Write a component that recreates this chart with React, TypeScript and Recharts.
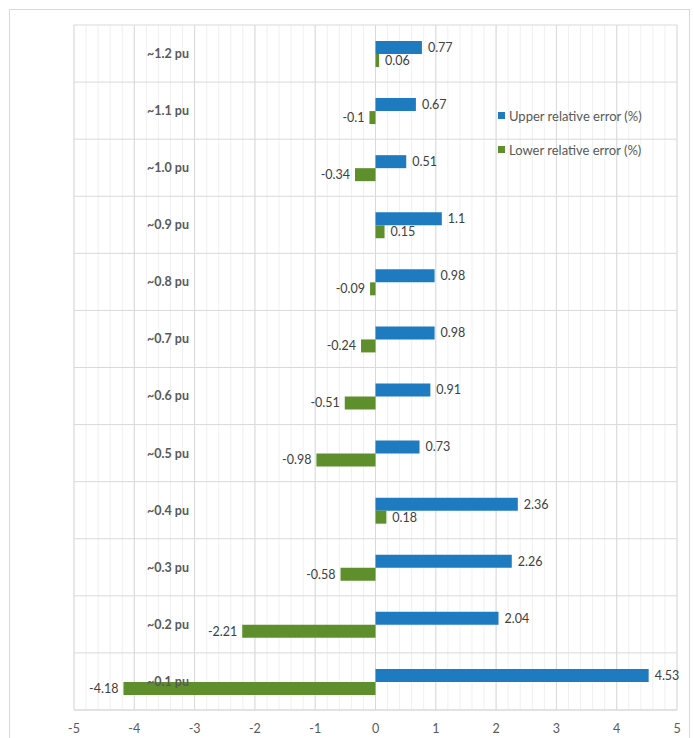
import {
  BarChart,
  Bar,
  XAxis,
  YAxis,
  CartesianGrid,
  LabelList,
} from "recharts";

const categories = [
  "~1.2 pu",
  "~1.1 pu",
  "~1.0 pu",
  "~0.9 pu",
  "~0.8 pu",
  "~0.7 pu",
  "~0.6 pu",
  "~0.5 pu",
  "~0.4 pu",
  "~0.3 pu",
  "~0.2 pu",
  "~0.1 pu",
];
const upperError = [0.77, 0.67, 0.51, 1.1, 0.98, 0.98, 0.91, 0.73, 2.36, 2.26, 2.04, 4.53];
const lowerError = [0.06, -0.1, -0.34, 0.15, -0.09, -0.24, -0.51, -0.98, 0.18, -0.58, -2.21, -4.18];
const xTicks = [-5, -4, -3, -2, -1, 0, 1, 2, 3, 4, 5];
const minorTicks = Array.from({ length: 51 }, (_, i) => -5 + i * 0.2);
const xMin = -5;
const xMax = 5;

const data = categories.map((name, i) => ({
  name,
  upper: upperError[i],
  lower: lowerError[i],
}));

const FONT = "Lato, 'Open Sans', sans-serif";
const BLUE = "#1f7bc0";
const GREEN = "#5e8f2c";

// map an x value to a pixel inside the plot area
const toPx = (offset: any, v: number) =>
  offset.left + ((v - xMin) / (xMax - xMin)) * offset.width;

const ValueLabel = (props: any) => {
  const { x, y, width, height, value } = props;
  const left = Math.min(x, x + width);
  const right = Math.max(x, x + width);
  const neg = value < 0;
  return (
    <text
      x={neg ? left - 5 : right + 6}
      y={y + height / 2}
      dy="0.35em"
      textAnchor={neg ? "end" : "start"}
      fontSize={12.5}
      fontFamily={FONT}
      fill="#404040"
    >
      {value}
    </text>
  );
};

const renderCategoryTick = (props: any) => {
  const { x, y, payload } = props;
  return (
    <text
      x={x + 94}
      y={y}
      dy="0.35em"
      textAnchor="middle"
      fontSize={12.5}
      fontWeight="bold"
      fontFamily={FONT}
      fill="#595959"
    >
      {payload.value}
    </text>
  );
};

const legendItems = [
  { label: "Upper relative error (%)", color: BLUE },
  { label: "Lower relative error (%)", color: GREEN },
];

export default function App() {
  return (
    <div style={{ position: "absolute", left: 0, top: 0, width: 694, height: 738, background: "#fff" }}>
      <div
        style={{
          position: "absolute",
          left: 9,
          top: 9,
          width: 679,
          height: 740,
          border: "1px solid #d9d9d9",
        }}
      />
      <div style={{ position: "absolute", left: 0, top: 0 }}>
        <BarChart
          width={694}
          height={738}
          data={data}
          layout="vertical"
          margin={{ top: 25, right: 17, left: 73, bottom: 0 }}
          barGap={0}
          barSize={13}
        >
          <CartesianGrid
            horizontal={false}
            stroke="#f0f0f0"
            verticalCoordinatesGenerator={({ offset }: any) =>
              minorTicks.map((t) => toPx(offset, t))
            }
          />
          <CartesianGrid
            stroke="#d9d9d9"
            verticalCoordinatesGenerator={({ offset }: any) =>
              xTicks.map((t) => toPx(offset, t))
            }
            horizontalCoordinatesGenerator={({ offset }: any) =>
              categories
                .map((_, i) => offset.top + (i * offset.height) / categories.length)
                .concat([offset.top + offset.height])
            }
          />
          <XAxis
            type="number"
            domain={[xMin, xMax]}
            ticks={xTicks}
            interval={0}
            height={28}
            axisLine={{ stroke: "#d9d9d9" }}
            tickLine={false}
            tickMargin={8}
            tick={{ fontSize: 12.5, fill: "#595959", fontFamily: FONT }}
          />
          <YAxis
            type="category"
            dataKey="name"
            width={1}
            axisLine={false}
            tickLine={false}
            tickMargin={0}
            tickSize={0}
            tick={renderCategoryTick}
            interval={0}
          />
          <Bar dataKey="upper" fill={BLUE} isAnimationActive={false}>
            <LabelList dataKey="upper" content={<ValueLabel />} />
          </Bar>
          <Bar dataKey="lower" fill={GREEN} isAnimationActive={false}>
            <LabelList dataKey="lower" content={<ValueLabel />} />
          </Bar>
        </BarChart>
      </div>
      <div
        style={{
          position: "absolute",
          left: 498,
          top: 107,
          fontFamily: FONT,
          fontSize: 13,
          color: "#595959",
        }}
      >
        {legendItems.map((item, i) => (
          <div
            key={item.label}
            style={{ display: "flex", alignItems: "center", height: 17, marginBottom: i === 0 ? 17 : 0 }}
          >
            <span
              style={{
                width: 7,
                height: 7,
                background: item.color,
                display: "inline-block",
                marginRight: 4,
              }}
            />
            {item.label}
          </div>
        ))}
      </div>
    </div>
  );
}
